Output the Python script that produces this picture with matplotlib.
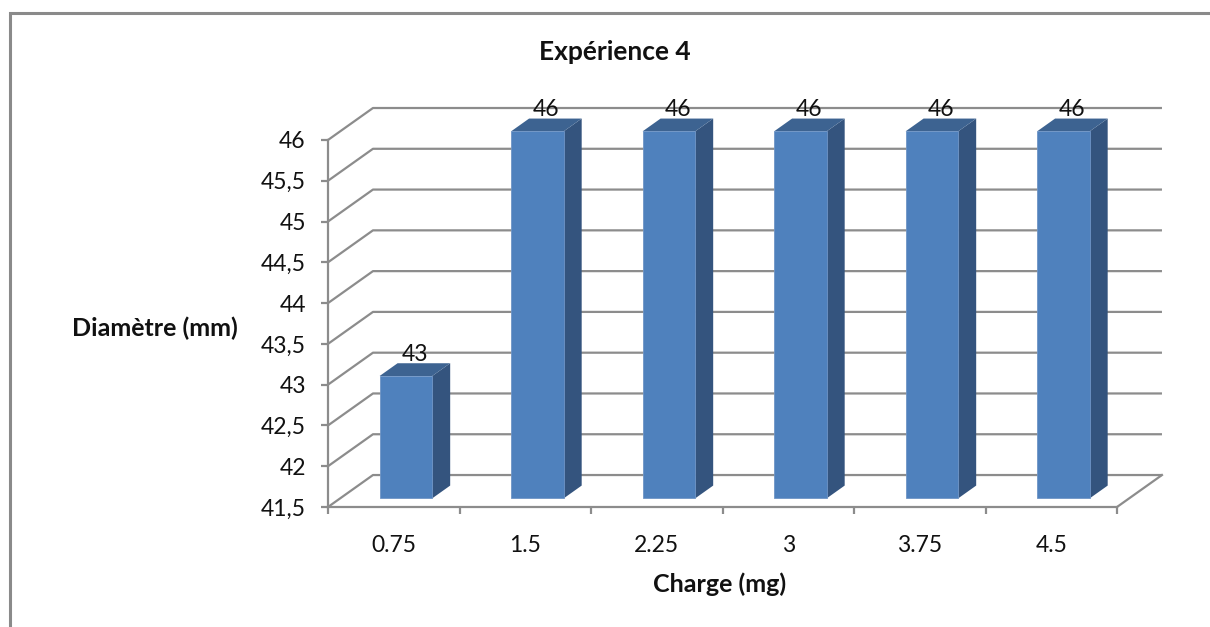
import matplotlib
matplotlib.use("Agg")
import matplotlib.pyplot as plt
from matplotlib.patches import Polygon, Rectangle
import numpy as np

# Data
charges = ["0.75", "1.5", "2.25", "3", "3.75", "4.5"]
diametres = [43, 46, 46, 46, 46, 46]
y_ticks = [41.5, 42, 42.5, 43, 43.5, 44, 44.5, 45, 45.5, 46]
title = "Expérience 4"
xlabel = "Charge (mg)"
ylabel = "Diamètre (mm)"

plt.rcParams["font.family"] = ["Lato", "DejaVu Sans"]

W, H, DPI = 1210, 627, 100
fig = plt.figure(figsize=(W / DPI, H / DPI), dpi=DPI)

# Oblique projection: depth d in [0, 1] shifts points right and up
DX = 0.342          # category units
DY = 0.392          # value units
YMIN, YMAX = 41.5, 46
n = len(charges)

# axes placement (pixel geometry of the plot area)
px_per_x = 131.5
px_per_y = 81.56
x0_px, y0_px = 328, 507         # data (0, YMIN)
xlim = (-0.3, 6.6)
ylim = (41.2, 46.6)
left = x0_px + xlim[0] * px_per_x
right = x0_px + xlim[1] * px_per_x
bottom = y0_px + (YMIN - ylim[0]) * px_per_y
top = y0_px - (ylim[1] - YMIN) * px_per_y
ax = fig.add_axes([left / W, (H - bottom) / H, (right - left) / W, (bottom - top) / H])
ax.set_xlim(*xlim)
ax.set_ylim(*ylim)
ax.patch.set_alpha(0)

def proj(x, y, d):
    return (x + d * DX, y + d * DY)

grid_c = "#8c8c8c"
lw_grid = 1.6
txt_c = "#111111"

# gridlines on the left wall and back wall
for v in y_ticks:
    p0 = proj(0, v, 0)
    p1 = proj(0, v, 1)
    p2 = proj(n, v, 1)
    ax.plot([p0[0], p1[0], p2[0]], [p0[1], p1[1], p2[1]], color=grid_c, lw=lw_grid,
            solid_capstyle="butt", zorder=1)
# floor right edge
f0 = proj(n, YMIN, 0)
f1 = proj(n, YMIN, 1)
ax.plot([f0[0], f1[0]], [f0[1], f1[1]], color=grid_c, lw=lw_grid, zorder=1)

# bars
front_c = "#4f81bd"
side_c = "#34547e"
top_c = "#3d6391"
edge_c = "#6f95c6"
bw = 0.4
d0, d1 = 0.27, 0.67
for i, v in enumerate(diametres):
    xl = i + 0.5 - bw / 2
    xr = i + 0.5 + bw / 2
    # side face
    side = [proj(xr, YMIN, d0), proj(xr, YMIN, d1), proj(xr, v, d1), proj(xr, v, d0)]
    ax.add_patch(Polygon(side, closed=True, facecolor=side_c, edgecolor="none", zorder=3))
    # top face
    topf = [proj(xl, v, d0), proj(xr, v, d0), proj(xr, v, d1), proj(xl, v, d1)]
    ax.add_patch(Polygon(topf, closed=True, facecolor=top_c, edgecolor="none", zorder=3))
    # front face
    fx, fy = proj(xl, YMIN, d0)
    ax.add_patch(Rectangle((fx, fy), bw, v - YMIN, facecolor=front_c,
                           edgecolor=edge_c, lw=0.6, zorder=4))
    # value label
    lx, ly = proj(i + 0.5, v, (d0 + d1) / 2)
    ax.annotate(f"{v:g}", (lx, v + d1 * DY), xytext=(0, -1), textcoords="offset points",
                ha="center", va="bottom", fontsize=16.5, color=txt_c, zorder=5)

# axes: front vertical axis and floor front edge via spines
for s in ["top", "right"]:
    ax.spines[s].set_visible(False)
ax.spines["left"].set_position(("data", 0))
ax.spines["left"].set_bounds(YMIN, YMAX)
ax.spines["bottom"].set_position(("data", YMIN))
ax.spines["bottom"].set_bounds(0, n)
for s in ["left", "bottom"]:
    ax.spines[s].set_color(grid_c)
    ax.spines[s].set_linewidth(lw_grid)

ax.set_yticks(y_ticks)
ax.set_yticklabels([f"{v:g}".replace(".", ",") for v in y_ticks])
ax.set_xticks(np.arange(n + 1))
ax.set_xticklabels([])
ax.set_xticks(np.arange(n) + 0.5, minor=True)
ax.set_xticklabels(charges, minor=True)
ax.tick_params(axis="both", which="major", direction="out", length=5, width=lw_grid,
               color=grid_c, labelsize=16.5, labelcolor=txt_c)
ax.tick_params(axis="x", which="minor", length=0, labelsize=16.5, labelcolor=txt_c, pad=20)
ax.tick_params(axis="y", which="major", pad=11)

# titles
fig.text(615 / W, 1 - 52 / H, title, ha="center", va="center", fontsize=19,
         fontweight="bold", color=txt_c)
fig.text(155 / W, 1 - 328 / H, ylabel, ha="center", va="center", fontsize=18,
         fontweight="bold", color=txt_c)
fig.text(720 / W, 1 - 584 / H, xlabel, ha="center", va="center", fontsize=18,
         fontweight="bold", color=txt_c)

# chart frame
fig.patches.append(Rectangle((9.5 / W, -0.1), 1.2, 1 - 12.5 / H + 0.1, transform=fig.transFigure,
                             facecolor="none", edgecolor="#8a8a8a", lw=2.2, zorder=0))

fig.savefig("out.png", dpi=DPI)
